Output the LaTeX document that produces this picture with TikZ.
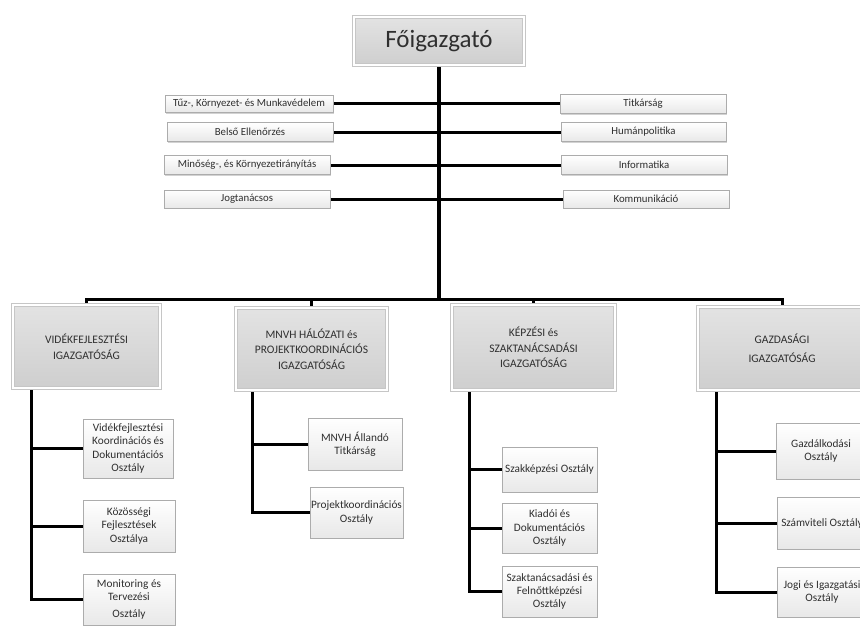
\documentclass[tikz,border=0pt]{standalone}
\usepackage{fontspec}
\setmainfont{Carlito}
\usetikzlibrary{shadows,backgrounds}
\definecolor{txt}{HTML}{2F2F2F}
\tikzset{
  bigbox/.style={double=white, draw=gray!45, line width=0.6pt, double distance=2.2pt,
    top color=black!11, bottom color=black!19,
    text=txt, align=center, inner sep=2pt,
    drop shadow={opacity=0.3, shadow xshift=1.2pt, shadow yshift=-1.2pt}},
  dirbox/.style={bigbox, font=\fontsize{11.5}{15.5}\selectfont},
  staffbox/.style={draw=gray!65, line width=0.6pt, top color=white, bottom color=black!9,
    text=txt, align=center, inner sep=1pt, font=\fontsize{10.8}{12}\selectfont,
    drop shadow={opacity=0.35, shadow xshift=1.2pt, shadow yshift=-1.2pt}},
  subbox/.style={staffbox, font=\fontsize{11.3}{13.4}\selectfont},
  conn/.style={draw=black, line width=3pt},
  trunk/.style={draw=black, line width=4pt}
}
\begin{document}
\begin{tikzpicture}[x=1pt,y=-1pt]
\useasboundingbox (0,0) rectangle (860,626);
\clip (0,0) rectangle (860,626);
\coordinate (bus) at (0,299);
% top
\node[bigbox, minimum width=170pt, minimum height=48pt, font=\fontsize{25}{28}\selectfont] (F) at (439,41) {Főigazgató};
% staff left
\node[staffbox, minimum width=168pt, minimum height=17pt] (L1) at (249,104) {Tűz-, Környezet- és Munkavédelem};
\node[staffbox, minimum width=166pt, minimum height=19pt] (L2) at (250,132) {Belső Ellenőrzés};
\node[staffbox, minimum width=166pt, minimum height=19pt] (L3) at (247,165) {Minőség-, és Környezetirányítás};
\node[staffbox, minimum width=166pt, minimum height=18pt] (L4) at (247,199) {Jogtanácsos};
% staff right
\node[staffbox, minimum width=166pt, minimum height=19pt] (R1) at (643,104) {Titkárság};
\node[staffbox, minimum width=165pt, minimum height=19pt] (R2) at (643.5,132) {Humánpolitika};
\node[staffbox, minimum width=166pt, minimum height=19pt] (R3) at (644,165) {Informatika};
\node[staffbox, minimum width=166pt, minimum height=18pt] (R4) at (646,199) {Kommunikáció};
% directorates
\node[dirbox, minimum width=147pt, minimum height=83pt] (A) at (86.5,346.5) {VIDÉKFEJLESZTÉSI\\IGAZGATÓSÁG};
\node[dirbox, minimum width=151pt, minimum height=82pt] (B) at (311.5,349) {MNVH HÁLÓZATI és\\PROJEKTKOORDINÁCIÓS\\IGAZGATÓSÁG};
\node[dirbox, minimum width=163pt, minimum height=85pt] (C) at (533.5,347.5) {KÉPZÉSI és\\SZAKTANÁCSADÁSI\\IGAZGATÓSÁG};
\node[dirbox, minimum width=168pt, minimum height=83pt, font=\fontsize{11.5}{19}\selectfont] (D) at (782,348.5) {GAZDASÁGI\\IGAZGATÓSÁG};
% departments
\node[subbox, minimum width=90pt, minimum height=59pt] (A1) at (128,448.5) {Vidékfejlesztési\\Koordinációs és\\Dokumentációs\\Osztály};
\node[subbox, minimum width=92pt, minimum height=52pt] (A2) at (129,526) {Közösségi\\Fejlesztések\\Osztálya};
\node[subbox, minimum width=92pt, minimum height=51pt] (A3) at (129,599.5) {Monitoring és\\Tervezési\\[3pt]Osztály};
\node[subbox, minimum width=94pt, minimum height=52pt] (B1) at (355,444) {MNVH Állandó\\Titkárság};
\node[subbox, minimum width=93pt, minimum height=51pt] (B2) at (356.5,512.5) {Projektkoordinációs\\Osztály};
\node[subbox, minimum width=95pt, minimum height=45pt] (C1) at (549.5,469.5) {Szakképzési Osztály};
\node[subbox, minimum width=95pt, minimum height=50pt] (C2) at (549.5,528) {Kiadói és\\Dokumentációs\\Osztály};
\node[subbox, minimum width=95pt, minimum height=51pt] (C3) at (549.5,591.5) {Szaktanácsadási és\\Felnőttképzési\\Osztály};
\node[subbox, minimum width=90pt, minimum height=56pt] (D1) at (821,451) {Gazdálkodási\\Osztály};
\node[subbox, minimum width=90pt, minimum height=52pt] (D2) at (822,523) {Számviteli Osztály};
\node[subbox, minimum width=90pt, minimum height=50pt] (D3) at (822,592) {Jogi és Igazgatási\\Osztály};
\begin{scope}[on background layer]
\fill[white] (0,0) rectangle (860,626);
\draw[trunk] (F.south) -- (F.south |- bus);
\foreach \i in {1,2,3,4} { \draw[conn] (L\i.east) -- (R\i.west); }
\draw[conn] (A.north) -- (A.north |- bus) -- (D.north |- bus) -- (D.north);
\draw[conn] (B.north) -- (B.north |- bus);
\draw[conn] (C.north) -- (C.north |- bus);
\draw[conn] ([xshift=19pt]A.south west) coordinate (a0) |- (A3.west);
\draw[conn] (a0 |- A1.west) -- (A1.west);
\draw[conn] (a0 |- A2.west) -- (A2.west);
\draw[conn] ([xshift=17pt]B.south west) coordinate (b0) |- (B2.west);
\draw[conn] (b0 |- B1.west) -- (B1.west);
\draw[conn] ([xshift=18pt]C.south west) coordinate (c0) |- (C3.west);
\draw[conn] (c0 |- C1.west) -- (C1.west);
\draw[conn] (c0 |- C2.west) -- (C2.west);
\draw[conn] ([xshift=19pt]D.south west) coordinate (d0) |- (D3.west);
\draw[conn] (d0 |- D1.west) -- (D1.west);
\draw[conn] (d0 |- D2.west) -- (D2.west);
\end{scope}
\end{tikzpicture}
\end{document}
